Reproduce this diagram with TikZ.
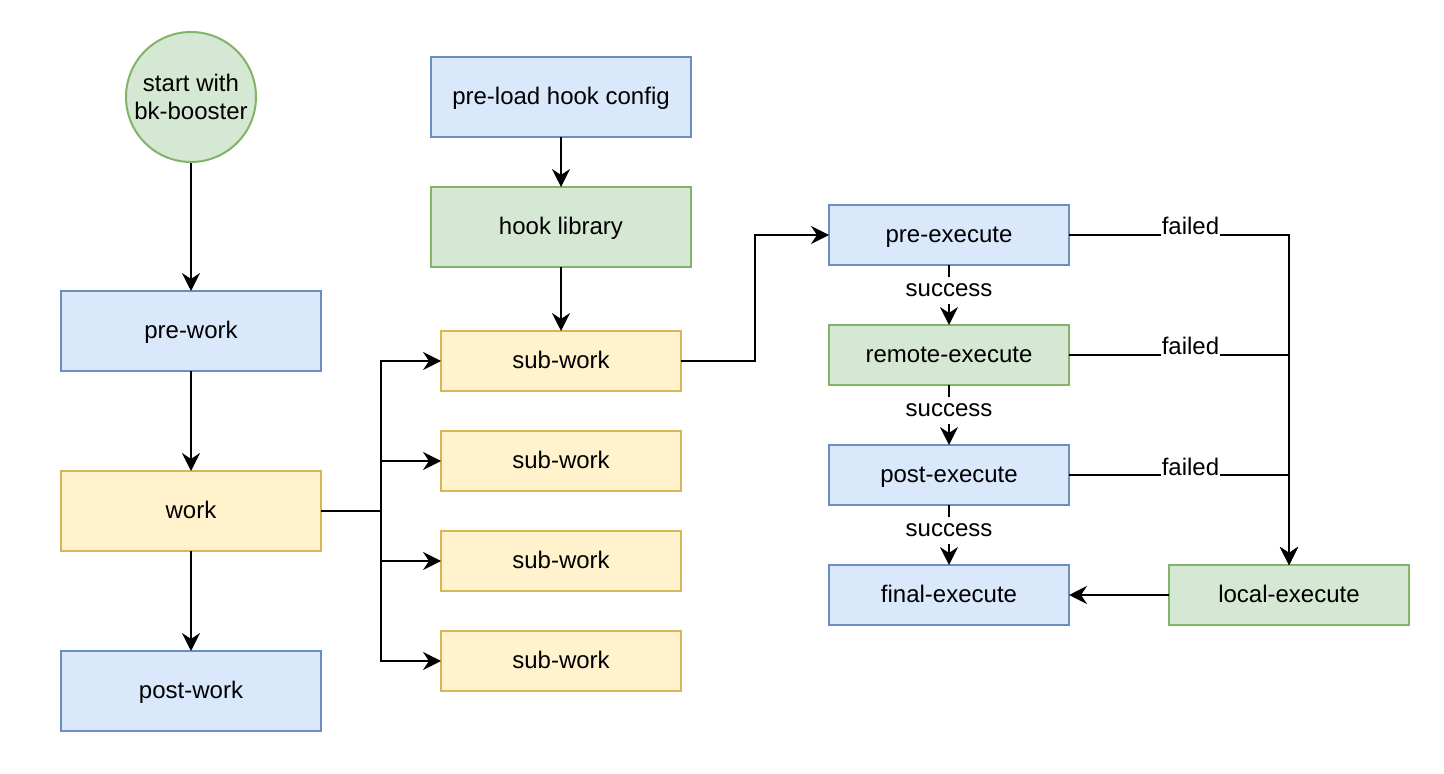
\documentclass[tikz,border=0pt]{standalone}
\usepackage{fontspec}
\setmainfont{Liberation Sans}
\usetikzlibrary{arrows.meta}

\definecolor{blueFill}{HTML}{DAE8FC}
\definecolor{blueLine}{HTML}{6C8EBF}
\definecolor{greenFill}{HTML}{D5E8D4}
\definecolor{greenLine}{HTML}{82B366}
\definecolor{yellowFill}{HTML}{FFF2CC}
\definecolor{yellowLine}{HTML}{D6B656}

\tikzset{
  box/.style={draw, line width=1pt, inner sep=0pt, outer sep=0pt, text height=10pt, text depth=2.5pt},
  bigbox/.style={box, minimum width=130pt, minimum height=40pt},
  smallbox/.style={box, minimum width=120pt, minimum height=30pt},
  bluebox/.style={fill=blueFill, draw=blueLine},
  greenbox/.style={fill=greenFill, draw=greenLine},
  yellowbox/.style={fill=yellowFill, draw=yellowLine},
  arr/.style={line width=1pt, -{Stealth[length=9pt, width=9pt, inset=3pt]}},
  oklbl/.style={fill=white, inner xsep=0.5pt, inner ysep=1pt, text height=9pt, text depth=2.5pt},
  faillbl/.style={oklbl, anchor=base}
}

\begin{document}
\begin{tikzpicture}[x=0.5pt, y=-0.5pt, font=\fontsize{12pt}{14pt}\selectfont]
\useasboundingbox (0,0) rectangle (1444,774);

\node (start) at (191,97) [circle, draw=greenLine, fill=greenFill, line width=1pt, minimum size=65pt, inner sep=0pt, align=center] {start with\\bk-booster};
\node (prework) at (191,331) [bigbox, bluebox] {pre-work};
\node (work) at (191,511) [bigbox, yellowbox] {work};
\node (postwork) at (191,691) [bigbox, bluebox] {post-work};

\node (preload) at (561,97) [bigbox, bluebox] {pre-load hook config};
\node (hooklib) at (561,227) [bigbox, greenbox] {hook library};
\node (sub1) at (561,361) [smallbox, yellowbox] {sub-work};
\node (sub2) at (561,461) [smallbox, yellowbox] {sub-work};
\node (sub3) at (561,561) [smallbox, yellowbox] {sub-work};
\node (sub4) at (561,661) [smallbox, yellowbox] {sub-work};

\node (preexec) at (949,235) [smallbox, bluebox] {pre-execute};
\node (remoteexec) at (949,355) [smallbox, greenbox] {remote-execute};
\node (postexec) at (949,475) [smallbox, bluebox] {post-execute};
\node (finalexec) at (949,595) [smallbox, bluebox] {final-execute};
\node (localexec) at (1289,595) [smallbox, greenbox] {local-execute};

\coordinate (fork) at (381,511);
\coordinate (bend) at (755,361);

\draw [arr] (start) -- (prework);
\draw [arr] (prework) -- (work);
\draw [arr] (work) -- (postwork);

\draw [arr] (work.east) -- (fork) |- (sub1.west);
\draw [arr] (fork) |- (sub2.west);
\draw [arr] (fork) |- (sub3.west);
\draw [arr] (fork) |- (sub4.west);

\draw [arr] (preload) -- (hooklib);
\draw [arr] (hooklib) -- (sub1);
\draw [arr] (sub1.east) -- (bend) |- (preexec.west);

\draw [arr] (preexec) -- (remoteexec) node [oklbl, pos=0.42] {success};
\draw [arr] (remoteexec) -- (postexec) node [oklbl, pos=0.42] {success};
\draw [arr] (postexec) -- (finalexec) node [oklbl, pos=0.42] {success};

\draw [arr] (preexec.east) -| (localexec.north) node [faillbl, pos=0.276] {failed};
\draw [arr] (remoteexec.east) -| (localexec.north) node [faillbl, pos=0.276] {failed};
\draw [arr] (postexec.east) -| (localexec.north) node [faillbl, pos=0.276] {failed};
\draw [arr] (localexec) -- (finalexec);
\end{tikzpicture}
\end{document}
